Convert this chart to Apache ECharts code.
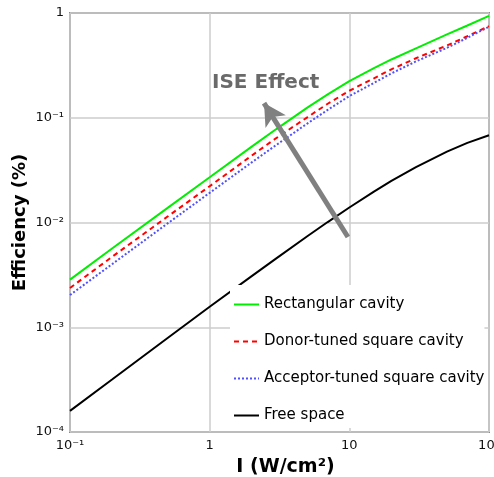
<!DOCTYPE html>
<html><head><meta charset="utf-8">
<script src="https://cdn.jsdelivr.net/npm/echarts@6/dist/echarts.min.js"></script>
<style>html,body{margin:0;padding:0;background:#fff}#c{width:494px;height:477px}</style>
</head><body><div id="c"></div>
<script>
const intensity = [0.1, 0.2, 0.5, 1, 2, 3, 5, 7, 10, 15, 20, 30, 50, 70, 100];
const rectangular = [2.85e-3, 5.65e-3, 0.0138, 0.027, 0.053, 0.078, 0.125, 0.167, 0.224, 0.298, 0.36, 0.46, 0.625, 0.76, 0.94];
const donorTuned = [2.37e-3, 4.7e-3, 0.0114, 0.0222, 0.0435, 0.064, 0.101, 0.136, 0.181, 0.238, 0.29, 0.37, 0.49, 0.60, 0.75];
const acceptorTuned = [2.03e-3, 4.0e-3, 9.8e-3, 0.0192, 0.0375, 0.055, 0.088, 0.119, 0.161, 0.215, 0.265, 0.345, 0.465, 0.58, 0.74];
const freeSpace = [1.59e-4, 3.17e-4, 7.9e-4, 1.57e-3, 3.08e-3, 4.55e-3, 7.4e-3, 0.0101, 0.0139, 0.0197, 0.025, 0.0338, 0.0475, 0.0575, 0.068];
const seriesNames = ['Rectangular cavity', 'Donor-tuned square cavity', 'Acceptor-tuned square cavity', 'Free space'];
const xTickValues = [0.1, 1, 10, 100];
const xTickLabels = ['10⁻¹', '1', '10', '10²'];
const yTickValues = [1e-4, 1e-3, 1e-2, 1e-1, 1];
const yTickLabels = ['10⁻⁴', '10⁻³', '10⁻²', '10⁻¹', '1'];
const arrowTail = [9.77, 7.27e-3];
const arrowHead = [2.45, 0.138];
const annotationText = 'ISE Effect';

function tickLabel(values, labels) {
  return function (v) {
    for (let i = 0; i < values.length; i++) {
      if (Math.abs(Math.log10(v) - Math.log10(values[i])) < 1e-6) return labels[i];
    }
    return '';
  };
}
function pairs(ys) { return intensity.map((x, i) => [x, ys[i]]); }

const FONT = 'DejaVu Sans';
const chart = echarts.init(document.getElementById('c'), null, { renderer: 'canvas' });
const baseLine = { type: 'line', showSymbol: false, symbol: 'none', smooth: false };
chart.setOption({
  animation: false,
  backgroundColor: '#fff',
  grid: { left: 70, right: 5, top: 13, bottom: 45, outerBoundsMode: 'none', containLabel: false, show: true, borderColor: '#8a8a8a', borderWidth: 2, backgroundColor: 'transparent' },
  xAxis: {
    type: 'log', logBase: 10, min: 0.1, max: 100,
    name: 'I (W/cm²)', nameLocation: 'middle', nameGap: 26,
    nameTextStyle: { fontFamily: FONT, fontWeight: 'bold', fontSize: 19, color: '#000', padding: [0, 0, 0, 12] },
    axisLine: { show: false }, axisTick: { show: false },
    axisLabel: { fontFamily: FONT, fontSize: 13, color: '#111', margin: 7, formatter: tickLabel(xTickValues, xTickLabels) },
    splitLine: { show: true, lineStyle: { color: '#cccccc', width: 1.5 } },
    minorTick: { show: false }
  },
  yAxis: {
    type: 'log', logBase: 10, min: 1e-4, max: 1,
    name: 'Efficiency (%)', nameLocation: 'middle', nameGap: 41, nameMoveOverlap: false,
    nameTextStyle: { fontFamily: FONT, fontWeight: 'bold', fontSize: 18, color: '#000' },
    axisLine: { show: false }, axisTick: { show: false },
    axisLabel: { fontFamily: FONT, fontSize: 13, color: '#111', margin: 6, formatter: tickLabel(yTickValues, yTickLabels) },
    splitLine: { show: true, lineStyle: { color: '#cccccc', width: 1.5 } }
  },
  legend: {
    data: seriesNames, orient: 'vertical', left: 230, top: 285,
    backgroundColor: '#fff', padding: [12, 0, 5, 3],
    itemWidth: 25, itemHeight: 14, itemGap: 22,
    itemStyle: { opacity: 0 },
    textStyle: { fontFamily: FONT, fontSize: 15, color: '#000' }
  },
  graphic: [
    {
      type: 'text', left: 212, top: 73, z: 100,
      style: { text: annotationText, font: 'bold 20px "DejaVu Sans"', fill: '#6a6a6a' }
    },
    {
      type: 'line', z: 100,
      shape: { x1: 489, y1: 280, x2: 489, y2: 432 },
      style: { stroke: '#c8c8c8', lineWidth: 1.5 }
    }
  ],
  series: [
    Object.assign({}, baseLine, { name: seriesNames[0], data: pairs(rectangular), lineStyle: { color: '#00ee00', width: 2 }, itemStyle: { color: '#00ee00' } }),
    Object.assign({}, baseLine, { name: seriesNames[1], data: pairs(donorTuned), lineStyle: { color: '#ff0000', width: 2, type: [5, 4] }, itemStyle: { color: '#ff0000' } }),
    Object.assign({}, baseLine, { name: seriesNames[2], data: pairs(acceptorTuned), lineStyle: { color: '#5050ff', width: 2, type: [2, 2] }, itemStyle: { color: '#5050ff' } }),
    Object.assign({}, baseLine, { name: seriesNames[3], data: pairs(freeSpace), lineStyle: { color: '#000', width: 2 }, itemStyle: { color: '#000' } }),
    {
      type: 'line', name: 'arrow', data: [], z: 10,
      markLine: {
        silent: true, symbol: ['none', 'arrow'], symbolSize: [18, 22],
        label: { show: false },
        lineStyle: { color: '#808080', width: 5, type: 'solid' },
        itemStyle: { color: '#808080' },
        data: [[{ coord: arrowTail }, { coord: arrowHead }]]
      }
    }
  ]
});
</script></body></html>
